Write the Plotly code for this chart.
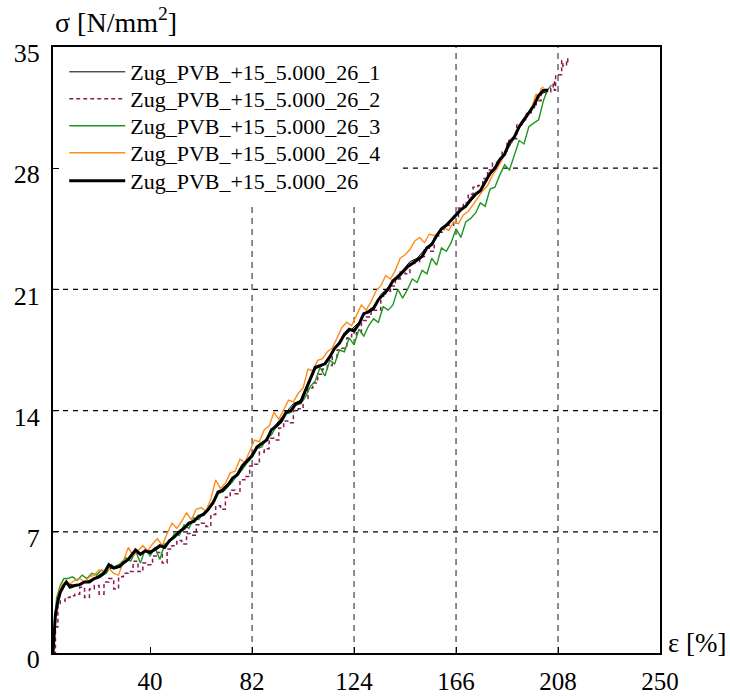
import plotly.graph_objects as go

# ---------------- data ----------------
names = ["Zug_PVB_+15_5.000_26_1", "Zug_PVB_+15_5.000_26_2", "Zug_PVB_+15_5.000_26_3",
         "Zug_PVB_+15_5.000_26_4", "Zug_PVB_+15_5.000_26"]

x_ticks = [40, 82, 124, 166, 208, 250]
x_grid = [82, 124, 166, 208]
y_ticks = [0, 7, 14, 21, 28, 35]
y_grid = [7, 14, 21, 28]

x1 = [0, 1, 2, 3, 4.5, 6, 9, 12, 15, 18, 21, 24, 27, 30, 33, 36, 39, 42, 45, 48, 51, 54, 57, 60, 63, 66, 69,
      72, 75, 78, 81, 84, 87, 90, 93, 96, 99, 102, 105, 108, 111, 114, 117, 120, 123, 126, 129, 132, 135,
      138, 141, 144, 147, 150, 153, 156, 159, 162, 165, 168, 171, 174, 177, 180, 183, 186, 189, 192, 195,
      198, 201, 203]
y1 = [0, 2.4, 3.2, 3.7, 4.0, 4.0, 3.9, 4.0, 4.2, 4.4, 4.7, 4.9, 5.1, 5.3, 5.8, 5.7, 5.9, 5.9, 6.2, 6.4, 6.9,
      7.3, 7.5, 7.9, 8.2, 8.8, 9.4, 9.8, 10.2, 10.9, 11.2, 11.8, 12.2, 12.9, 13.4, 13.9, 14.4, 14.6, 15.6,
      16.4, 16.6, 17.2, 17.8, 18.3, 18.7, 19.1, 19.7, 20.0, 20.7, 21.1, 21.7, 22.1, 22.6, 22.8, 23.3, 23.7,
      24.3, 24.8, 25.2, 25.6, 25.9, 26.4, 26.9, 27.6, 28.1, 28.8, 29.5, 30.3, 30.9, 31.6, 32.3, 32.4]

x2 = [0, 1, 2, 3, 5, 7, 9, 11, 13, 15, 17, 19, 21, 23, 25, 27, 29, 31, 33, 35, 37, 39, 41, 43, 45, 47, 49,
      51, 53, 55, 57, 59, 61, 63, 65, 67, 69, 71, 73, 75, 77, 79, 81, 83, 85, 87, 89, 91, 93, 95, 97, 99,
      101, 103, 105, 107, 109, 111, 113, 115, 117, 119, 121, 123, 125, 127, 129, 131, 133, 135, 137, 139,
      141, 143, 145, 147, 149, 151, 153, 155, 157, 159, 161, 163, 165, 167, 169, 171, 173, 175, 177, 179,
      181, 183, 185, 187, 189, 191, 193, 195, 197, 199, 201, 203, 205, 206, 206.5, 207, 209, 209.5, 210,
      211.5, 212]
y2 = [0, 1.5, 2.8, 3.0, 3.2, 3.3, 3.4, 3.8, 3.2, 3.7, 3.9, 3.4, 4.1, 4.3, 3.7, 4.4, 4.6, 4.7, 5.3, 4.7,
      5.2, 5.1, 5.6, 5.8, 5.2, 6.0, 6.2, 6.5, 6.3, 6.9, 6.8, 7.4, 7.5, 7.3, 8.0, 8.5, 8.3, 9.0, 9.4, 9.2,
      10.0, 10.2, 10.8, 10.9, 11.6, 11.8, 12.4, 12.3, 13.0, 13.4, 13.3, 14.0, 14.1, 14.7, 15.3, 15.6, 16.1,
      16.4, 16.6, 17.1, 17.5, 17.6, 18.2, 18.4, 18.5, 19.2, 19.4, 19.8, 19.8, 20.6, 20.9, 21.2, 21.6, 22.0,
      21.9, 22.5, 22.6, 22.9, 23.4, 23.2, 24.1, 24.3, 24.7, 24.7, 25.2, 25.7, 26.0, 26.5, 26.9, 27.0, 27.4,
      27.9, 28.3, 28.5, 29.0, 29.6, 29.7, 30.5, 30.8, 31.2, 31.5, 31.9, 32.3, 32.4, 32.6, 33.0, 32.5, 33.4,
      33.4, 34.2, 33.9, 34.3, 34.1]

x3 = [0, 0.6, 1.5, 3, 4.5, 6, 8, 10, 12, 14, 16, 18, 20, 22, 24, 26, 28, 30, 32, 34, 36, 38, 40, 42, 44, 46,
      48, 50, 52, 54, 56, 58, 60, 62, 64, 66, 68, 70, 72, 74, 76, 78, 80, 82, 84, 86, 88, 90, 92, 94, 96, 98,
      100, 102, 104, 106, 108, 110, 112, 114, 116, 118, 120, 122, 124, 126, 128, 130, 132, 134, 136, 138,
      140, 142, 144, 146, 148, 150, 152, 154, 156, 158, 160, 162, 164, 166, 168, 170, 172, 174, 176, 178,
      180, 182, 184, 186, 188, 190, 192, 194, 196, 198, 200, 202, 203.5, 205.3]
y3 = [0, 1.8, 3.2, 3.9, 4.3, 4.3, 4.4, 4.2, 4.5, 4.3, 4.6, 4.5, 4.8, 4.6, 5.1, 4.9, 5.2, 5.5, 5.3, 5.9, 5.2,
      6.0, 5.6, 6.1, 5.4, 6.3, 6.4, 6.9, 6.8, 7.4, 7.2, 7.8, 7.7, 8.1, 8.3, 8.6, 9.2, 9.3, 9.6, 9.9, 10.3,
      10.6, 11.0, 11.3, 11.8, 11.9, 12.4, 12.6, 13.1, 13.3, 13.8, 13.9, 14.3, 14.4,
      14.8, 15.4, 15.7, 16.5, 16.0, 16.9, 16.7, 17.5, 17.4, 18.2,
      17.8, 18.7, 18.3, 18.9, 19.3, 19.1, 20.0, 19.8, 20.1, 21.0,
      20.5, 21.0, 21.6, 21.4, 22.1, 21.9, 22.8, 22.4, 23.4, 23.2,
      23.7, 24.5, 24.0, 24.9, 25.1, 25.4, 26.0, 25.8, 26.8, 26.9,
      27.6, 28.2, 27.9, 28.8, 29.6, 29.4, 30.4, 30.6, 30.8, 31.9,
      32.5, 32.8]

x4 = [0, 0.8, 2, 3.5, 5, 7, 9, 11, 13, 15, 17, 19, 21, 23, 25, 27, 29, 31, 33, 35, 37, 39, 41, 43, 45, 47,
      49, 51, 53, 55, 57, 59, 61, 63, 65, 67, 69, 71, 73, 75, 77, 79, 81, 83, 85, 87, 89, 91, 93, 95, 97, 99,
      101, 103, 105, 107, 109, 111, 113, 115, 117, 119, 121, 123, 125, 127, 129, 131, 133, 135, 137, 139,
      141, 143, 145, 147, 149, 151, 153, 155, 157, 159, 161, 163, 165, 167, 169, 171, 173, 175, 177, 179,
      181, 183, 185, 187, 189, 191, 193, 195, 197, 199, 200, 201, 202]
y4 = [0, 2.0, 3.3, 3.9, 4.1, 4.0, 4.2, 4.3, 4.1, 4.4, 4.5, 4.8, 4.7, 4.9, 4.6, 4.5, 5.3, 6.1, 5.6, 5.9, 6.2,
      5.9, 6.3, 6.6, 6.2, 6.9, 7.5, 7.2, 7.6, 8.1, 7.7, 8.3, 8.4, 8.2, 8.9, 10.0, 9.5, 9.8, 10.4, 10.5, 11.2,
      11.0, 11.7, 12.3, 12.2, 12.9, 13.1, 13.9, 13.5, 14.1, 14.6, 14.5, 15.0, 15.3, 16.4, 16.3, 16.9, 17.0,
      17.4, 17.6, 18.2, 18.8, 19.1, 18.9, 19.5, 20.1, 19.8, 20.3, 20.9, 21.2, 21.8, 21.6, 22.1, 22.8, 23.0,
      23.3, 23.8, 24.0, 23.7, 24.2, 24.1, 24.3, 24.6, 24.4, 24.9, 24.8, 25.3, 25.5, 25.9, 26.3, 26.7, 27.0,
      27.6, 28.0, 28.5, 29.1, 29.6, 30.2, 30.7, 31.0, 31.4, 32.3, 31.9, 32.6, 32.7]

x5 = [0, 1, 2, 3, 4.5, 5.5, 7, 9, 11, 13, 15, 17, 19, 21, 23, 25, 27.5, 29, 31, 34, 36, 38, 40, 42, 44, 46,
      48, 50, 52, 54, 56, 58, 60, 62, 64, 66, 68, 70, 72, 74, 76, 78, 80, 82, 84, 86, 88, 90, 92, 94, 96, 98,
      100, 102, 104, 106, 108, 110, 112, 114, 116, 118, 120, 122, 124, 126, 128, 130, 132, 134, 136, 138,
      140, 142, 144, 146, 148, 150, 152, 154, 156, 158, 160, 162, 164, 166, 168, 170, 172, 174, 176, 178,
      180, 182, 184, 186, 188, 190, 192, 194, 196, 198, 200, 202, 204]
y5 = [0, 2.2, 3.0, 3.5, 3.9, 4.1, 3.8, 3.9, 3.95, 4.1, 4.1, 4.3, 4.4, 4.6, 5.1, 4.9, 5.0, 5.2, 5.4, 5.95,
      5.7, 5.9, 5.8, 6.0, 6.2, 6.1, 6.5, 6.7, 7.0, 7.2, 7.5, 7.6, 7.9, 8.0, 8.3, 8.7, 9.3, 9.4, 9.7, 10.1,
      10.3, 10.8, 11.1, 11.4, 11.9, 12.1, 12.3, 12.9, 13.1, 13.4, 13.9, 14.0, 14.4, 14.5, 15.2, 15.8, 16.5,
      16.6, 16.7, 17.1, 17.6, 17.9, 18.4, 18.7, 18.6, 19.0, 19.6, 19.7, 19.9, 20.4, 20.7, 21.0, 21.5, 21.7,
      22.0, 22.3, 22.5, 22.7, 22.9, 23.4, 23.6, 24.1, 24.5, 24.7, 25.0, 25.3, 25.6, 25.8, 26.2, 26.5, 26.7,
      27.2, 27.7, 28.0, 28.5, 28.8, 29.5, 29.8, 30.4, 30.8, 31.2, 31.6, 32.2, 32.5, 32.5]

colors = ["#000000", "#8b1a55", "#1e961e", "#ff8c1a", "#000000"]

# ---------------- figure ----------------
FONT = "Liberation Serif, Times New Roman, serif"
fig = go.Figure()
legend_ids = ["legend", "legend2", "legend3", "legend4", "legend5"]
styles = [dict(color=colors[0], width=1),
          dict(color=colors[1], width=1.5, dash="4px,3px", shape="hv"),
          dict(color=colors[2], width=1.4),
          dict(color=colors[3], width=1.4),
          dict(color=colors[4], width=3)]
series = [(x1, y1), (x2, y2), (x3, y3), (x4, y4), (x5, y5)]
for i, (xs, ys) in enumerate(series):
    fig.add_trace(go.Scatter(x=xs, y=ys, mode="lines", name=names[i], line=styles[i],
                             legend=legend_ids[i]))

shapes = []
for gx in x_grid:
    shapes.append(dict(type="line", xref="x", yref="y", x0=gx, x1=gx, y0=y_ticks[0], y1=y_ticks[-1],
                       line=dict(color="#707070", width=1.6, dash="6px,5px"), layer="below"))
for gy in y_grid:
    shapes.append(dict(type="line", xref="x", yref="y", x0=0, x1=x_ticks[-1], y0=gy, y1=gy,
                       line=dict(color="#000000", width=1.2, dash="5px,5px"), layer="below"))
# white legend background box (hides grid lines behind the legend)
shapes.append(dict(type="rect", xref="x", yref="y", x0=0, x1=143, y0=25.9, y1=35,
                   fillcolor="white", line=dict(width=0), layer="below"))

legend_rows = [0.9587, 0.9142, 0.8696, 0.8251, 0.7789]
legend_layout = {}
for lid, ly in zip(legend_ids, legend_rows):
    legend_layout[lid] = dict(x=0.0185, y=ly, xanchor="left", yanchor="middle",
                              bgcolor="rgba(0,0,0,0)", itemwidth=56,
                              font=dict(family=FONT, size=22, color="black"))

fig.update_layout(
    width=730, height=697,
    margin=dict(l=53, r=70, t=47, b=44, autoexpand=False),
    paper_bgcolor="white", plot_bgcolor="white",
    font=dict(family=FONT, color="black", size=25),
    shapes=shapes,
    showlegend=True,
    xaxis=dict(range=[0, 250], tickvals=x_ticks, ticktext=[str(v) for v in x_ticks],
               ticks="inside", ticklen=6, tickwidth=1.2, tickcolor="black", automargin=False,
               showgrid=False, zeroline=False, showline=True, linewidth=2, linecolor="black",
               mirror=True, ticklabelstandoff=5, tickfont=dict(family=FONT, size=25)),
    yaxis=dict(range=[0, 35], tickvals=y_ticks, ticktext=[str(v) for v in y_ticks],
               ticks="inside", ticklen=6, tickwidth=1.2, tickcolor="black", automargin=False,
               showgrid=False, zeroline=False, showline=True, linewidth=2, linecolor="black",
               mirror=True, ticklabelshift=6, ticklabelstandoff=6, tickfont=dict(family=FONT, size=26)),
    annotations=[
        dict(text="σ [N/mm<sup>2</sup>]", xref="paper", yref="paper", x=0, y=1, xanchor="left",
             yanchor="middle", yshift=27, xshift=0, showarrow=False, font=dict(family=FONT, size=28)),
        dict(text="ε [%]", xref="paper", yref="paper", x=1, y=0, xanchor="left", yanchor="middle",
             xshift=6, yshift=10, showarrow=False, font=dict(family=FONT, size=27)),
    ],
    **legend_layout,
)

fig.write_html("out.html")
